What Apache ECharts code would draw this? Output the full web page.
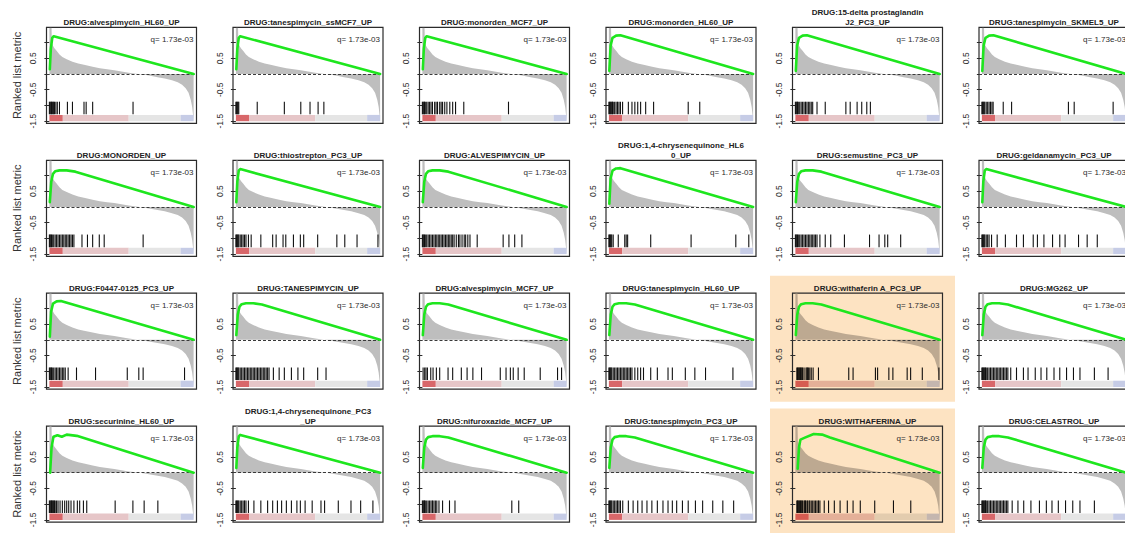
<!DOCTYPE html>
<html>
<head>
<meta charset="utf-8">
<script src="https://cdn.jsdelivr.net/npm/echarts@6/dist/echarts.min.js"></script>
<style>
  html, body { margin: 0; padding: 0; background: #ffffff; }
  #chart { width: 1125px; height: 533px; }
</style>
</head>
<body>
<div id="chart"></div>
<script>
// ---- gene-set titles, one per panel (4 rows x 6 columns) ----
const titles = [
  'DRUG:alvespimycin_HL60_UP', 'DRUG:tanespimycin_ssMCF7_UP', 'DRUG:monorden_MCF7_UP',
  'DRUG:monorden_HL60_UP', 'DRUG:15-delta prostaglandin\nJ2_PC3_UP', 'DRUG:tanespimycin_SKMEL5_UP',
  'DRUG:MONORDEN_UP', 'DRUG:thiostrepton_PC3_UP', 'DRUG:ALVESPIMYCIN_UP',
  'DRUG:1,4-chrysenequinone_HL6\n0_UP', 'DRUG:semustine_PC3_UP', 'DRUG:geldanamycin_PC3_UP',
  'DRUG:F0447-0125_PC3_UP', 'DRUG:TANESPIMYCIN_UP', 'DRUG:alvespimycin_MCF7_UP',
  'DRUG:tanespimycin_HL60_UP', 'DRUG:withaferin A_PC3_UP', 'DRUG:MG262_UP',
  'DRUG:securinine_HL60_UP', 'DRUG:1,4-chrysenequinone_PC3\n_UP', 'DRUG:nifuroxazide_MCF7_UP',
  'DRUG:tanespimycin_PC3_UP', 'DRUG:WITHAFERINA_UP', 'DRUG:CELASTROL_UP'
];

// ---- positions of the gene-set members in the ranked list (% of list) ----
const hits = [
  [0,0.5,1,1.5,2,2.5,3,3.5,4.5,5.5,7,12.5,16,24,25.5,30,58],
  [0,0.5,1,1.5,2,14.8,33.6,45,51.4,57,61],
  [0,0.5,1,1.5,2,3,4,5,6,7,8.5,9.5,10.5,12,13,14,15.5,17,19,21,23,28.7,59.7],
  [0,0.5,1,1.5,2,2.5,3,4,5,6,7,8,9.5,13.5,16,18,20,22,25.5,31,55,63],
  [0,0.5,1,1.5,2,3,4,5,6,7,8,9,10,11,12,15,20.7,35,38,42.8,46,49.5,52],
  [0,0.5,1,1.5,2,3,4,5,6,7,7.8,14.8,20.6,60,64,91],
  [0,0.5,1,1.5,2,3,4,5,6,7,8,9,10,11,12,13,14,15,16,17,22.6,26.4,30,34.6,38,65],
  [0,0.5,1,1.5,2,3,4,5,6,7,8.7,10.6,17.3,25.5,27.9,32.7,34.6,39.9,44.7,47,56.7,70,75.5,84,98.5],
  [0,0.5,1,1.5,2,3,4,5,6,7,8,9,10,11,12,13,14,15,16,17,18,19,20,21,22,23.5,25,26,27.5,29,30,31.5,33,38,56,60,64,69],
  [0,0.5,1,1.5,2,3,6.5,11,12,13,29,57,88,97],
  [0,0.5,1,1.5,2,3,4,5,6,7,8,9,10,11,12,13,14,15,17,20.7,24.5,34,51.4,58,62,64,73],
  [0,0.5,1,1.5,2,3,4,5,6.7,10.6,16.3,24,28.8,35.6,38.5,43,49,54,57.7,67,73,80],
  [0,0.5,1,1.5,2,3,4,5,6,7,8,9,10,11,13,18.8,32,54,62,65,93.7],
  [0,0.5,1,1.5,2,3,4,5,6,7,8,9,10,11,12,13,14,15,16,17,18,19,20,21,22,23,26,30,33.6,38.5,43,47,56.7,62.5],
  [0.5,1.6,2.5,3.5,5.8,7.4,9.7,12,17.8,21,27,31,35,41,54,58,61,63,66.4,70.6,81.7,93.7,96.5],
  [0,0.5,1,1.5,2,3,4,5,6,7,8,9,10,11,12,13,14,15,16,18,20,22,24,29,33.6,41,44,53,59.6,67,86],
  [1,1.5,2,2.5,3,3.5,4,4.5,5,6,7.4,8,8.5,9,10,11,12.3,16,37,40,55.5,57,64.8,67.6,77.5,79.9,88,99.5],
  [0,0.5,1,1.5,2,2.5,3,4,5,6,7,8,9,10,11,12,13,14,15,16,17,18,20,24,28.8,32,37,41,45,50,54,58.7,63.5,68,78,87.5],
  [0,0.5,1,1.5,2,2.5,3,3.5,4,5,6,7.4,9,10.6,12,13.4,15,17,19.4,21,23.6,25.9,45.6,57.9,65.7,75.2],
  [0,0.5,1,1.5,2,3,4,5,6,7,8.7,12.5,17.3,22,25.5,28.8,31.7,35,38.5,42.3,44.7,48,52.9,59,61.5,71,79.8,86.5,95],
  [0,0.5,1,1.5,2,3,4,5,6,7,8,9,10,11.5,14,18.8,22.6,62,66.8],
  [0,0.5,1,1.5,2,3,4,5,6,7,8,9.6,13.5,16.8,20,23,26.4,29.8,33.6,37.5,41,44,47,51,55,60,65,72,79,86.5],
  [1,1.5,2,2.5,3,3.5,4,4.5,5,6,6.5,7,8,8.5,9.5,10,11,12,13,14,15,16,17,20,23,27,31,36,40,45,55,68,80],
  [0,0.5,1,1.5,2,2.5,3,4,5,6,7,8,9,10,11,12,13,14,15,16,17,18,21,25,29,34,39.9,44.7,48.6,53,58,63,68,78]
];

// ---- running enrichment score curves: [position %, score] ----
const esSharp = [[0.3,0.15],[1,0.8],[2,1.15],[3,1.2],[100,0]];
const esBend  = [[0.3,0.1],[1.2,0.9],[2.5,1.15],[5,1.22],[8,1.23],[100,0]];
const esRound = [[0.3,0.15],[1.3,0.8],[2.5,1.05],[4,1.13],[7,1.16],[12,1.16],[18,1.12],[100,0]];
const esBumpy = [[0.5,0.0],[1.5,0.8],[2.8,1.14],[5.6,1.19],[8.6,1.14],[12,1.21],[19,1.17],[100,0]];
const esWith  = [[1.6,0.13],[2.5,0.8],[3.5,1.05],[7,1.12],[12.7,1.23],[18.5,1.21],[24,1.12],[100,0]];
const esShapeOfPanel = [
  'sharp','sharp','sharp','bend','bend','bend',
  'round','sharp','round','bend','round','sharp',
  'bend','round','round','round','round','round',
  'bumpy','sharp','round','round','with','round'
];

// ---- ranked list metric (shared by all panels): [position %, metric] ----
const rankedMetric = [
  [0,1.47],[1.5,1.47],[1.7,1.0],[2.5,0.9],[3.5,0.82],[5,0.74],[7,0.62],[9,0.54],[12,0.47],
  [16,0.39],[20,0.33],[24,0.29],[30,0.23],[35,0.18],[40,0.15],[45,0.12],[50,0.08],[55,0.04],
  [60,0.01],[65,-0.02],[70,-0.06],[75,-0.1],[80,-0.14],[85,-0.2],[89,-0.26],[92,-0.34],
  [94.5,-0.45],[96.5,-0.6],[98,-0.82],[99,-1.05],[99.6,-1.3],[100,-1.52]
];

// ---- colour bar under the hits: segment breaks (% of list) ----
const colorBarBreaks = [0, 9.3, 55, 91, 100];
const qLabel = 'q= 1.73e-03';
const yTickValues = [-1.5, -1, -0.5, 0, 0.5, 1];
const yLabelValues = [-1.5, -0.5, 0.5];
const highlightedPanels = [16, 22];

// ---- styling / layout ----
const FONT = '"Liberation Sans", Arial, Helvetica, sans-serif';
const COL0 = 46.5, COLSTEP = 186.5, ROW0 = 27.4, ROWSTEP = 132.9, PW = 150, PH = 96;
const NCOL = 6;
const Y_MIN = -1.57, Y_MAX = 1.48;
const HIT_TOP = -0.88, HIT_BOT = -1.28, BAR_TOP = -1.30, BAR_BOT = -1.50;
const barColors = ['#d8676a', '#e6c6c8', '#e5e5e5', '#c6cce6'];
const HIGHLIGHT = '#fde3c2';
const esByName = { sharp: esSharp, bend: esBend, round: esRound, bumpy: esBumpy, with: esWith };

function tint(hex) {
  const h = parseInt(hex.slice(1), 16);
  const o = parseInt(HIGHLIGHT.slice(1), 16);
  const ch = (v, s) => (v >> s) & 255;
  const m = s => Math.round(ch(h, s) * ch(o, s) / 255);
  return '#' + [16, 8, 0].map(s => m(s).toString(16).padStart(2, '0')).join('');
}

const grids = [], xAxes = [], yAxes = [], series = [], graphics = [];

titles.forEach((title, i) => {
  const r = Math.floor(i / NCOL), c = i % NCOL;
  const left = COL0 + COLSTEP * c, top = ROW0 + ROWSTEP * r;
  const hl = highlightedPanels.includes(i);
  const col = hl ? tint : (x => x);

  if (hl) {
    graphics.push({
      type: 'rect', z: -10, silent: true,
      shape: { x: left - 22.5, y: top - 17.5, width: 185, height: r === 3 ? 140 : 126 },
      style: { fill: HIGHLIGHT }
    });
  }

  grids.push({
    left: left, top: top, width: PW, height: PH,
    show: true, borderColor: '#2b2b2b', borderWidth: 1.2, backgroundColor: 'transparent',
    containLabel: false, outerBoundsMode: 'none'
  });
  xAxes.push({ gridIndex: i, type: 'value', min: -2, max: 102, show: false });
  yAxes.push({
    gridIndex: i, type: 'value', min: Y_MIN, max: Y_MAX,
    axisLine: { show: false }, splitLine: { show: false },
    axisTick: { show: true, length: 5, customValues: yTickValues, lineStyle: { color: '#2b2b2b', width: 1 } },
    axisLabel: { show: true, customValues: yLabelValues, rotate: 90, fontSize: 8.5, color: '#2b2b2b',
                 fontFamily: FONT, margin: 9 },
    name: c === 0 ? 'Ranked list metric' : '',
    nameLocation: 'middle', nameRotate: 90, nameGap: 24,
    nameTextStyle: { fontSize: 11, color: '#333', fontFamily: FONT }
  });

  // ranked list metric as a grey area around zero, with dashed zero line
  series.push({
    type: 'line', xAxisIndex: i, yAxisIndex: i, data: rankedMetric,
    showSymbol: false, silent: true, z: 2,
    lineStyle: { width: 0 }, itemStyle: { color: col('#bebebe') },
    areaStyle: { color: col('#bebebe'), opacity: 1, origin: 0 },
    markLine: {
      silent: true, symbol: 'none', label: { show: false },
      lineStyle: { type: [3, 2], color: '#3a3a3a', width: 1 },
      data: [{ yAxis: 0 }]
    }
  });

  // colour bar
  const segs = barColors.map((bc, k) => [colorBarBreaks[k], colorBarBreaks[k + 1], BAR_TOP, k]);
  series.push({
    type: 'custom', xAxisIndex: i, yAxisIndex: i, data: segs, silent: true, z: 3,
    encode: { x: [0, 1], y: 2 },
    renderItem: (params, api) => {
      const p0 = api.coord([api.value(0), BAR_TOP]);
      const p1 = api.coord([api.value(1), BAR_BOT]);
      return { type: 'rect', shape: { x: p0[0], y: p0[1], width: p1[0] - p0[0], height: p1[1] - p0[1] },
               style: { fill: col(barColors[api.value(3)]) } };
    }
  });

  // hits
  series.push({
    type: 'custom', xAxisIndex: i, yAxisIndex: i, silent: true, z: 4,
    data: hits[i].map(v => [v, HIT_TOP]), encode: { x: 0, y: 1 },
    renderItem: (params, api) => {
      const p0 = api.coord([api.value(0), HIT_TOP]);
      const p1 = api.coord([api.value(0), HIT_BOT]);
      return { type: 'line', shape: { x1: p0[0], y1: p0[1], x2: p1[0], y2: p1[1] },
               style: { stroke: col('#111111'), lineWidth: 1.1 } };
    }
  });

  // running enrichment score
  series.push({
    type: 'line', xAxisIndex: i, yAxisIndex: i, data: esByName[esShapeOfPanel[i]],
    showSymbol: false, silent: true, z: 5,
    lineStyle: { color: '#1ee61e', width: 2.6, join: 'round', cap: 'round' }
  });

  // panel title and q-value
  const lines = title.split('\n');
  lines.forEach((ln, k) => {
    graphics.push({
      type: 'text', silent: true, z: 10,
      x: left + PW / 2, y: top - 5 - (lines.length - 1 - k) * 9.5,
      style: { text: ln, fontSize: 8, fontWeight: 'bold', fontFamily: FONT, fill: '#222',
               textAlign: 'center', textVerticalAlign: 'middle', align: 'center', verticalAlign: 'middle' }
    });
  });
  graphics.push({
    type: 'text', silent: true, z: 10,
    x: left + PW - 3, y: top + 12.5,
    style: { text: qLabel, fontSize: 8, fontFamily: FONT, fill: '#2b2b2b',
             textAlign: 'right', textVerticalAlign: 'middle', align: 'right', verticalAlign: 'middle' }
  });
});

const chart = echarts.init(document.getElementById('chart'), null, { renderer: 'svg' });
chart.setOption({
  animation: false,
  backgroundColor: '#ffffff',
  grid: grids, xAxis: xAxes, yAxis: yAxes, series: series,
  graphic: { elements: graphics }
});
</script>
</body>
</html>
